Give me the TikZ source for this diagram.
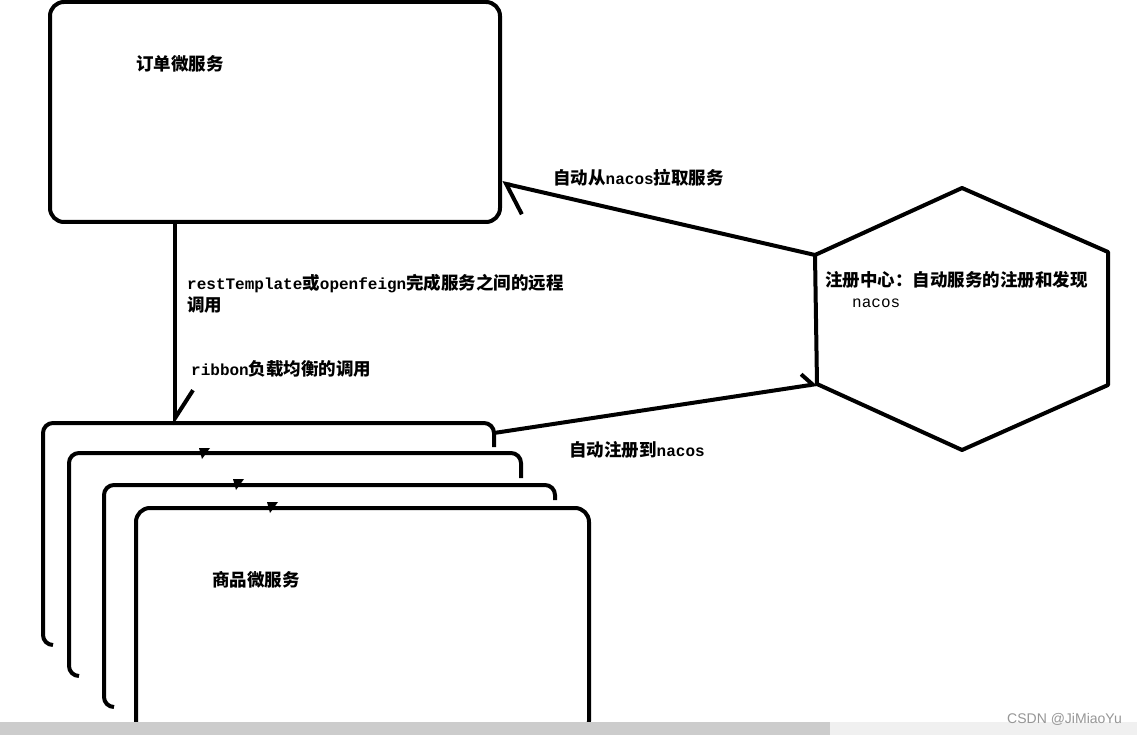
\documentclass[tikz,border=0pt]{standalone}
\usepackage{fontspec}
\setmainfont{Noto Sans CJK SC}
\newfontfamily\wmfont{Liberation Sans}
\newfontfamily\enfont{Liberation Mono}
\newcommand\en[1]{{\enfont\fontsize{16}{22}\selectfont #1}}
\usetikzlibrary{arrows.meta,positioning,calc}
\definecolor{ink}{RGB}{0,0,0}
\definecolor{barL}{RGB}{204,204,204}
\definecolor{barR}{RGB}{240,240,240}
\definecolor{mark}{RGB}{150,150,150}
\tikzset{
  box/.style={draw=ink,line width=4pt,rounded corners=14pt,inner sep=0pt},
  wire/.style={draw=ink,line width=4pt},
  lbl/.style={anchor=west,inner sep=0pt,align=left,font=\fontsize{17.5}{22}\selectfont\bfseries},
  callarr/.style={-{Straight Barb[left,length=28pt,width=36pt]}},
  pullarr/.style={-{Straight Barb[left,length=22pt,width=52pt]}},
  regarr/.style={-{Straight Barb[left,length=10pt,width=24pt]}},
  tick/.style={fill=ink},
}
\begin{document}
\begin{tikzpicture}[x=1pt,y=-1pt]
\useasboundingbox (0,0) rectangle (1137,735);
\fill[white] (0,0) rectangle (1137,735);
% order service
\node[box,minimum width=450pt,minimum height=220pt] (order) at (275,112) {};
\node[lbl] (orderLbl) at (136,64) {订单微服务};
% stacked goods services
\foreach \l/\t/\r/\b/\s in {43/423/494/645/447,69/453/521/676/478,104/485/555/707/500}{
  \draw[wire,rounded corners=10pt] (\l+10,\b) -- (\l,\b) -- (\l,\t) -- (\r,\t) -- (\r,\s);}
\node[box,minimum width=453pt,minimum height=227pt] (goods) at (362.5,621.5) {};
\node[lbl] (goodsLbl) at (212,580) {商品微服务};
\foreach \x/\y in {202/448,236/479,270/502}{
  \fill[tick] (\x-3,\y) -- (\x+8,\y) -- (\x,\y+11) -- cycle;}
% registry
\coordinate (hx1) at (815,255);
\coordinate (hx2) at (962,188);
\coordinate (hx3) at (1108,252);
\coordinate (hx4) at (1108,385);
\coordinate (hx5) at (962,450);
\coordinate (hx6) at (817,384);
\draw[wire,line join=round] (hx1) -- (hx2) -- (hx3) -- (hx4) -- (hx5) -- (hx6) -- cycle;
\node[lbl] (regLbl) at (825,280) {注册中心：自动服务的注册和发现};
\node[lbl] (nacosLbl) at (852,303) {\mdseries\en{nacos}};
% connectors
\coordinate (callEnd) at (175,425);
\coordinate (pullEnd) at (502,183);
\coordinate (regStart) at (494,433);
\draw[wire,callarr] (order.south -| callEnd) -- (callEnd);
\draw[wire,pullarr] (hx1) -- (pullEnd);
\draw[wire,regarr] (regStart) -- (hx6);
\node[lbl] (callLbl) at (187,294) {\en{restTemplate}或\en{openfeign}完成服务之间的远程\\调用};
\node[lbl] (ribbonLbl) at (191,369) {\en{ribbon}负载均衡的调用};
\node[lbl] (pullLbl) at (553,178) {自动从\en{nacos}拉取服务};
\node[lbl] (regArrLbl) at (569,450) {自动注册到\en{nacos}};
% page bar
\fill[barL] (0,722) rectangle (830,735);
\fill[barR] (830,722) rectangle (1137,735);
\node[anchor=east,inner sep=0pt,text=mark,font=\wmfont\fontsize{14}{16}\selectfont] (wm) at (1122,719) {CSDN @JiMiaoYu};
\end{tikzpicture}
\end{document}
